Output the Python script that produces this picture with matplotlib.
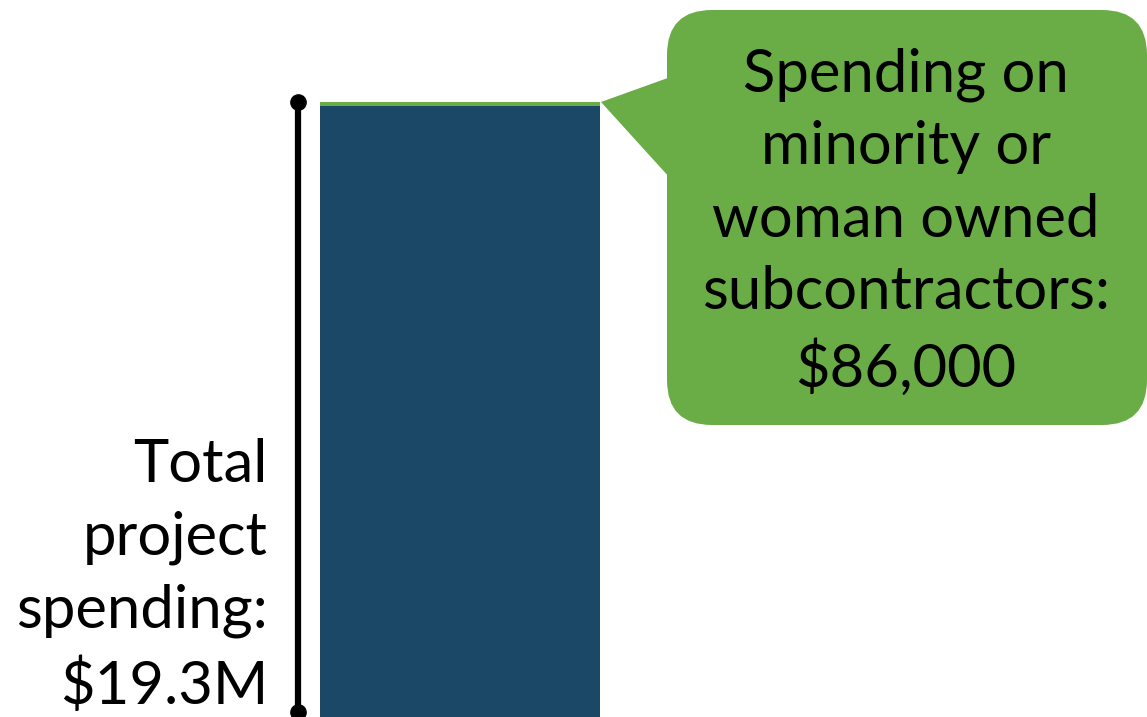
import matplotlib.pyplot as plt
from matplotlib.patches import FancyBboxPatch, Polygon

# data
total_spending = 19.3e6
minority_spending = 86000
total_label = "Total\nproject\nspending:\n$19.3M"
callout_label = "Spending on\nminority or\nwoman owned\nsubcontractors:\n$86,000"

blue = "#1b4866"
green = "#6aad46"
font = "Lato"

W, H = 1147, 717
fig = plt.figure(figsize=(W / 100, H / 100), dpi=100)

# bar axes: x in pixels, y in dollars; bar top sits 102 px below figure top
ax = fig.add_axes([0, 0, 1, 1])
ax.set_xlim(0, W)
ax.set_ylim(0, total_spending * H / (H - 102))
ax.axis("off")

ax.bar(460, total_spending - minority_spending, width=280, color=blue)
ax.bar(460, minority_spending * 1.5, width=280, bottom=total_spending - minority_spending * 1.5,
       color=green)

# bracket line with dots
ax.plot([298, 298], [0, total_spending], color="black", lw=4.5, solid_capstyle="butt")
ax.plot([298, 298], [total_spending * 0.008, total_spending], "o", color="black", ms=11)

ax.text(268, total_spending * 0.005, total_label, ha="right", va="bottom",
        fontsize=43, family=font, linespacing=1.42)

# callout in pixel coords
ov = fig.add_axes([0, 0, 1, 1], facecolor="none")
ov.set_xlim(0, W)
ov.set_ylim(H, 0)
ov.axis("off")

box = FancyBboxPatch((667 + 45, 10 + 45), 480 - 90, 415 - 90,
                     boxstyle="round,pad=45", fc=green, ec="none")
ov.add_patch(box)
ov.add_patch(Polygon([(601, 102), (690, 70), (690, 200)], closed=True, fc=green, ec="none"))

ov.text(906, 222, callout_label, ha="center", va="center", fontsize=43,
        family=font, linespacing=1.42)

fig.savefig("out.png", dpi=100)
